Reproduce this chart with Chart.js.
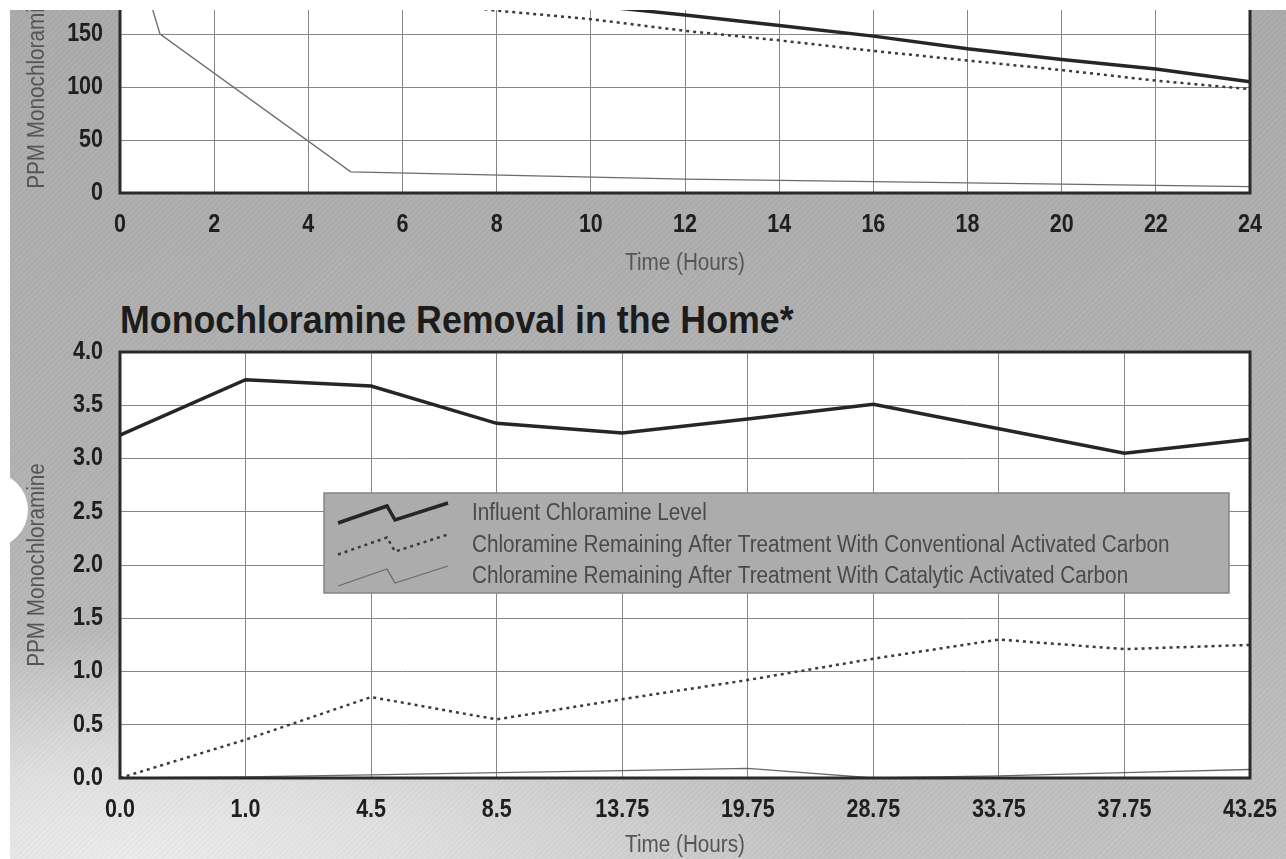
<!DOCTYPE html>
<html>
<head>
<meta charset="utf-8">
<title>Monochloramine Removal in the Home</title>
<script src="https://cdn.jsdelivr.net/npm/chart.js@4.4.1/dist/chart.umd.min.js"></script>
<style>
  html, body { margin: 0; padding: 0; background: #fff; }
  body { width: 1286px; height: 859px; overflow: hidden; position: relative; }
  #scan {
    position: absolute; left: 10px; top: 10px; width: 1276px; height: 849px; overflow: hidden;
    background:
      repeating-linear-gradient(135deg, rgba(255,255,255,0.035) 0 2px, rgba(0,0,0,0.018) 2px 4px),
      radial-gradient(ellipse 700px 230px at 120px 849px, rgba(236,236,236,1) 0%, rgba(236,236,236,0.7) 40%, rgba(236,236,236,0) 100%),
      linear-gradient(180deg, #aaaaaa 0%, #b1b1b1 55%, #c2c2c2 100%);
  }
  .hole { position: absolute; left: -58px; top: 462px; width: 76px; height: 76px; border-radius: 50%; background: #fff; }
  #topWrap { position: absolute; left: -10px; top: -40px; }
  #bottomWrap { position: absolute; left: -10px; top: 330px; }
  h2 {
    position: absolute; left: 110px; top: 290px; margin: 0; white-space: nowrap;
    font: bold 39px/39px "Liberation Sans", Arial, sans-serif;
    color: #1c1c1c;
    transform: scaleX(0.917); transform-origin: 0 0;
  }
</style>
</head>
<body>
<div id="scan">
  <div class="hole"></div>
  <div id="topWrap"><canvas id="topChart" width="1286" height="320"></canvas></div>
  <h2>Monochloramine Removal in the Home*</h2>
  <div id="bottomWrap"><canvas id="homeChart" width="1286" height="519"></canvas></div>
</div>
<script>
// upper chart, cut off at the top of the page
const topInfluentHours = [10, 12, 14, 16, 18, 20, 22, 24];
const topInfluentPpm = [177, 168, 158, 148, 136, 126, 117, 105];
const topConventionalHours = [7, 8, 10, 12, 14, 16, 18, 20, 22, 24];
const topConventionalPpm = [177, 172, 164, 153, 144, 134, 125, 116, 106, 98];
const topCatalyticHours = [0, 0.85, 4.9, 12, 24];
const topCatalyticPpm = [275, 150, 20, 13, 6];

// Monochloramine Removal in the Home
const homeHours = ['0.0', '1.0', '4.5', '8.5', '13.75', '19.75', '28.75', '33.75', '37.75', '43.25'];
const homeInfluent = [3.22, 3.74, 3.68, 3.33, 3.24, 3.37, 3.51, 3.28, 3.05, 3.18];
const homeConventional = [0.00, 0.36, 0.76, 0.55, 0.74, 0.92, 1.12, 1.30, 1.21, 1.25];
const homeCatalytic = [0.00, 0.01, 0.03, 0.05, 0.07, 0.09, 0.00, 0.02, 0.05, 0.08];

const seriesLabels = [
  'Influent Chloramine Level',
  'Chloramine Remaining After Treatment With Conventional Activated Carbon',
  'Chloramine Remaining After Treatment With Catalytic Activated Carbon'
];

const FONT = '"Liberation Sans", Arial, sans-serif';
const GRID = '#868686';

const styles = [
  { borderColor: '#262626', borderWidth: 3.5 },
  { borderColor: '#3a3a3a', borderWidth: 2.5, borderDash: [3, 4] },
  { borderColor: '#6a6a6a', borderWidth: 1.3 }
];

function pairs(xs, ys) {
  return xs.map((x, i) => ({ x: x, y: ys[i] }));
}

// the print uses a condensed face, so squeeze the canvas text sideways
function condensedContext(canvas) {
  const ctx = canvas.getContext('2d');
  const fillText = ctx.fillText;
  ctx.fillText = function (text, x, y, maxWidth) {
    const k = /bold|700/.test(this.font) ? 0.86 : 0.9;
    this.save();
    this.translate(x, y);
    this.scale(k, 1);
    if (maxWidth === undefined) fillText.call(this, text, 0, 0);
    else fillText.call(this, text, 0, 0, maxWidth / k);
    this.restore();
  };
  return ctx;
}

// white plot area with a dark box round it
const frame = {
  id: 'frame',
  beforeDraw(chart) {
    const { ctx, chartArea: a } = chart;
    ctx.save();
    ctx.fillStyle = '#fff';
    ctx.fillRect(a.left, a.top, a.right - a.left, a.bottom - a.top);
    ctx.restore();
  },
  afterDatasetsDraw(chart) {
    const { ctx, chartArea: a } = chart;
    ctx.save();
    ctx.strokeStyle = '#2a2a2a';
    ctx.lineWidth = 3;
    ctx.strokeRect(a.left, a.top, a.right - a.left, a.bottom - a.top);
    ctx.restore();
  }
};

// grey legend box with the zig-zag line samples
const boxLegend = {
  id: 'boxLegend',
  afterDraw(chart, args, opts) {
    if (!opts.display) return;
    const { ctx, chartArea: a } = chart;
    const x = a.left + 204, y = a.top + 141, w = 905, h = 100;
    ctx.save();
    ctx.fillStyle = '#acacac';
    ctx.fillRect(x, y, w, h);
    ctx.strokeStyle = '#858585';
    ctx.lineWidth = 1.5;
    ctx.strokeRect(x, y, w, h);
    ctx.font = '23px ' + FONT;
    ctx.textBaseline = 'middle';
    chart.data.datasets.forEach((ds, i) => {
      const cy = y + 20 + i * 31.5;
      const sx = x + 14;
      ctx.beginPath();
      ctx.setLineDash(ds.borderDash || []);
      ctx.lineWidth = ds.borderWidth;
      ctx.strokeStyle = ds.borderColor;
      ctx.moveTo(sx, cy + 10);
      ctx.lineTo(sx + 49, cy - 7);
      ctx.lineTo(sx + 57, cy + 7);
      ctx.lineTo(sx + 110, cy - 10);
      ctx.stroke();
      ctx.setLineDash([]);
      ctx.fillStyle = '#4a4a4a';
      ctx.fillText(ds.label, x + 148, cy + 1);
    });
    ctx.restore();
  }
};

function baseOptions(xHeight, titlePad, padTop) {
  return {
    responsive: false,
    animation: false,
    layout: { padding: { top: padTop, right: 36, left: 0, bottom: 0 } },
    elements: { point: { radius: 0 }, line: { tension: 0 } },
    plugins: {
      legend: { display: false },
      tooltip: { enabled: false },
      boxLegend: { display: false }
    },
    scales: {
      x: {
        grid: { color: GRID, lineWidth: 1, drawTicks: true, tickLength: 20, tickColor: 'transparent' },
        border: { display: false },
        ticks: { color: '#1f1f1f', padding: 0, font: { family: FONT, size: 25, weight: 'bold', lineHeight: 1 }, maxRotation: 0, autoSkip: false },
        title: { display: true, text: 'Time (Hours)', color: '#555', font: { family: FONT, size: 23, lineHeight: 1 }, padding: { top: 0, bottom: titlePad } },
        afterFit: s => { s.height = xHeight; }
      },
      y: {
        grid: { color: GRID, lineWidth: 1, drawTicks: true, tickLength: 17, tickColor: 'transparent' },
        border: { display: false },
        ticks: { color: '#1f1f1f', padding: 0, font: { family: FONT, size: 25, weight: 'bold', lineHeight: 0.8 } },
        title: { display: true, text: 'PPM Monochloramine', color: '#555', font: { family: FONT, size: 23, lineHeight: 1 }, padding: { top: 26, bottom: 0 } },
        afterFit: s => { s.width = 120; }
      }
    }
  };
}

const topOptions = baseOptions(97, 15, 11);
topOptions.scales.x.type = 'linear';
topOptions.scales.x.min = 0;
topOptions.scales.x.max = 24;
topOptions.scales.x.ticks.stepSize = 2;
topOptions.scales.y.min = 0;
topOptions.scales.y.max = 200;
topOptions.scales.y.ticks.stepSize = 50;

new Chart(condensedContext(document.getElementById('topChart')), {
  type: 'line',
  data: {
    datasets: [
      Object.assign({ label: seriesLabels[0], data: pairs(topInfluentHours, topInfluentPpm) }, styles[0]),
      Object.assign({ label: seriesLabels[1], data: pairs(topConventionalHours, topConventionalPpm) }, styles[1]),
      Object.assign({ label: seriesLabels[2], data: pairs(topCatalyticHours, topCatalyticPpm) }, styles[2])
    ]
  },
  options: topOptions,
  plugins: [frame]
});

const homeOptions = baseOptions(81, 2, 12);
homeOptions.scales.x.offset = false;
homeOptions.scales.x.grid.offset = false;
homeOptions.scales.y.min = 0;
homeOptions.scales.y.max = 4;
homeOptions.scales.y.ticks.stepSize = 0.5;
homeOptions.scales.y.ticks.callback = v => v.toFixed(1);
homeOptions.plugins.boxLegend = { display: true };

new Chart(condensedContext(document.getElementById('homeChart')), {
  type: 'line',
  data: {
    labels: homeHours,
    datasets: [
      Object.assign({ label: seriesLabels[0], data: homeInfluent }, styles[0]),
      Object.assign({ label: seriesLabels[1], data: homeConventional }, styles[1]),
      Object.assign({ label: seriesLabels[2], data: homeCatalytic }, styles[2])
    ]
  },
  options: homeOptions,
  plugins: [frame, boxLegend]
});
</script>
</body>
</html>
